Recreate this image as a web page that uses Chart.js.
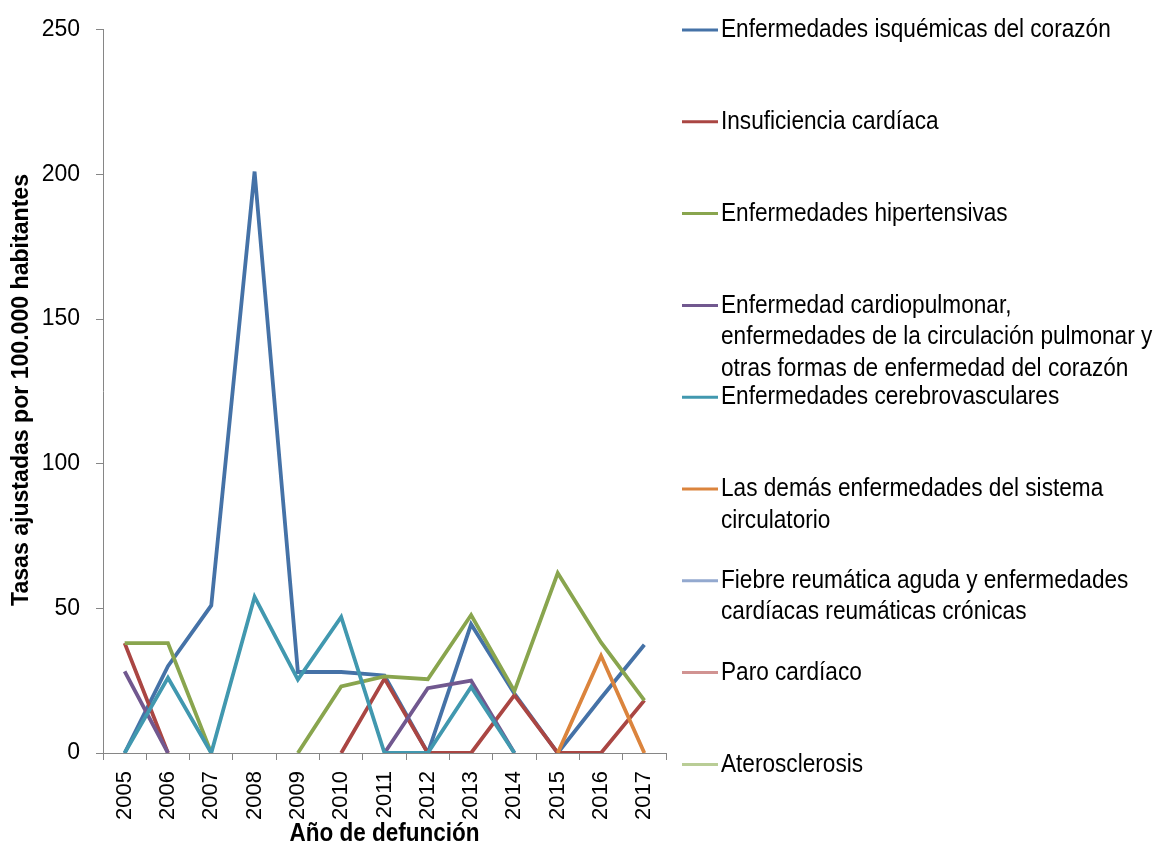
<!DOCTYPE html>
<html>
<head>
<meta charset="utf-8">
<script src="https://cdn.jsdelivr.net/npm/chart.js@4.4.0/dist/chart.umd.min.js"></script>
<style>
  html, body { margin: 0; padding: 0; background: #fff; }
  #wrap { width: 1155px; height: 845px; }
</style>
</head>
<body>
<div id="wrap"><canvas id="chart" width="1155" height="845"></canvas></div>
<script>
const years = ['2005', '2006', '2007', '2008', '2009', '2010', '2011', '2012', '2013', '2014', '2015', '2016', '2017'];

const seriesNames = [
    'Enfermedades isquémicas del corazón',
    'Insuficiencia cardíaca',
    'Enfermedades hipertensivas',
    'Enfermedad cardiopulmonar,\nenfermedades de la circulación pulmonar y\notras formas de enfermedad del corazón',
    'Enfermedades cerebrovasculares',
    'Las demás enfermedades del sistema\ncirculatorio',
    'Fiebre reumática aguda y enfermedades\ncardíacas reumáticas crónicas',
    'Paro cardíaco',
    'Aterosclerosis'
];

const isquemicas = [0, 30, 51, 201, 28, 28, 26.8, 0, 44.5, 20.5, 0, 19, 37.4];
const insuficiencia = [38, 0, null, null, null, 0, 25.7, 0, 0, 20, 0, 0, 18.2];
const hipertensivas = [38, 38, 0, null, 0, 23, 26.5, 25.5, 47.7, 21.4, 62.2, 38.2, 18.2];
const cardiopulmonar = [28.2, 0, null, null, null, null, 0, 22.4, 25, 0, null, null, null];
const cerebrovasculares = [0, 26, 0, 54, 25.4, 47, 0, 0, 22.8, 0, null, null, null];
const demas = [null, null, null, null, null, null, null, null, null, null, 0, 33.6, 0];
const fiebre = [null, null, null, null, null, null, null, null, null, null, null, null, null];
const paro = [null, null, null, null, null, null, null, null, null, null, null, null, null];
const aterosclerosis = [null, null, null, null, null, null, null, null, null, null, null, null, null];

const yTicks = [0, 50, 100, 150, 200, 250];
const xTitle = 'Año de defunción';
const yTitle = 'Tasas ajustadas por 100.000 habitantes';

const seriesData = [isquemicas, insuficiencia, hipertensivas, cardiopulmonar, cerebrovasculares, demas, fiebre, paro, aterosclerosis];
const colors = ['#4572A7', '#AA4643', '#89A54E', '#71588F', '#4198AF', '#DB843D', '#93A9CF', '#D19392', '#B9CD96'];

const FONT = '"Liberation Sans", Arial, sans-serif';

// the original uses a narrow face, so squeeze text horizontally
function narrowText(ctx, text, x, y, squeeze) {
    ctx.save();
    ctx.translate(x, y);
    ctx.scale(squeeze, 1);
    ctx.fillText(text, 0, 0);
    ctx.restore();
}

// legend and axis titles drawn by hand to get Excel's layout
const sideLegend = {
    id: 'sideLegend',
    afterDraw(chart) {
        const ctx = chart.ctx;
        const area = chart.chartArea;
        ctx.save();
        ctx.fillStyle = '#000';
        ctx.textBaseline = 'middle';

        ctx.font = '26px ' + FONT;
        ctx.textAlign = 'left';
        chart.data.datasets.forEach((ds, i) => {
            let y = 30 + i * 91.8;
            ctx.strokeStyle = ds.borderColor;
            ctx.lineWidth = 3;
            ctx.beginPath();
            ctx.moveTo(682, y);
            ctx.lineTo(718, y);
            ctx.stroke();
            ds.label.split('\n').forEach((line, k) => {
                narrowText(ctx, line, 721, y + k * 31.5, 0.87);
            });
        });

        ctx.textAlign = 'center';
        ctx.font = 'bold 25px ' + FONT;
        let w = ctx.measureText(xTitle).width;
        narrowText(ctx, xTitle, (area.left + area.right) / 2, 834, 190 / w);

        ctx.font = 'bold 23px ' + FONT;
        w = ctx.measureText(yTitle).width;
        ctx.save();
        ctx.translate(22, 390);
        ctx.rotate(-Math.PI / 2);
        narrowText(ctx, yTitle, 0, 0, 432 / w);
        ctx.restore();

        ctx.restore();
    }
};

const ctx = document.getElementById('chart').getContext('2d');
new Chart(ctx, {
    type: 'line',
    data: {
        labels: years,
        datasets: seriesData.map((d, i) => ({
            label: seriesNames[i],
            data: d,
            borderColor: colors[i],
            backgroundColor: colors[i],
            borderWidth: 3.8,
            pointRadius: 0,
            tension: 0,
            spanGaps: false,
            fill: false,
            order: seriesData.length - i
        }))
    },
    options: {
        responsive: false,
        animation: false,
        layout: { padding: { left: 0, top: 24, right: 489, bottom: 0 } },
        plugins: {
            legend: { display: false },
            tooltip: { enabled: false }
        },
        scales: {
            x: {
                offset: true,
                afterFit: (scale) => { scale.height = 92; },
                grid: {
                    offset: true,
                    drawOnChartArea: false,
                    drawTicks: true,
                    tickLength: 7,
                    color: '#868686'
                },
                border: { color: '#868686', width: 1 },
                ticks: {
                    minRotation: 90,
                    maxRotation: 90,
                    padding: 11,
                    color: '#000',
                    font: { family: FONT, size: 22 }
                }
            },
            y: {
                min: 0,
                max: 250,
                afterFit: (scale) => { scale.width = 103; },
                afterBuildTicks: (scale) => { scale.ticks = yTicks.map(v => ({ value: v })); },
                grid: {
                    drawOnChartArea: false,
                    drawTicks: true,
                    tickLength: 7,
                    color: '#868686'
                },
                border: { color: '#868686', width: 1 },
                ticks: {
                    padding: 16,
                    color: '#000',
                    font: { family: FONT, size: 23 }
                }
            }
        }
    },
    plugins: [sideLegend]
});
</script>
</body>
</html>
